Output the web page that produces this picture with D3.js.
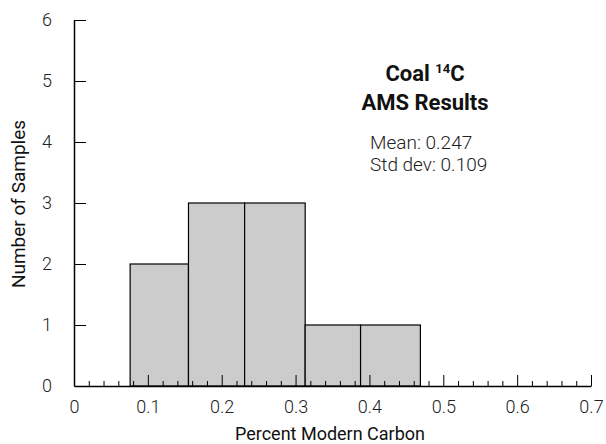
<!DOCTYPE html>
<html>
<head>
<meta charset="utf-8">
<script src="https://cdn.jsdelivr.net/npm/d3@7"></script>
<style>
    body { margin: 0; background: white; }
    text { font-family: Roboto, "Liberation Sans", sans-serif; }
</style>
</head>
<body>
<div id="chart"></div>
<script>
// bin edges and counts
const binEdges = [0.076, 0.155, 0.231, 0.313, 0.388, 0.469];
const counts = [2, 3, 3, 1, 1];
const xTicks = [0, 0.1, 0.2, 0.3, 0.4, 0.5, 0.6, 0.7];
const yTicks = [0, 1, 2, 3, 4, 5, 6];
const titleLines = ["Coal", "AMS Results"];
const statLines = ["Mean: 0.247", "Std dev: 0.109"];

function histogram() {

    const width = 606;
    const height = 444;
    const margin = {top: 20, left: 74, right: 15, bottom: 58};

    const bins = counts.map(function(c, i) {
        return {x0: binEdges[i], x1: binEdges[i + 1], n: c};
    });

    let xScale = d3.scaleLinear()
                .domain([0, 0.7])
                .range([margin.left, width - margin.right]);

    let yScale = d3.scaleLinear()
                .domain([0, 6])
                .range([height - margin.bottom, margin.top]);

    let svg = d3.select("#chart")
                .append("svg")
                .attr("width", width)
                .attr("height", height);

    // Bars
    svg.selectAll("rect.bar")
        .data(bins)
        .enter()
        .append("rect")
            .attr("class", "bar")
            .attr("x", function(d) { return xScale(d.x0); })
            .attr("y", function(d) { return yScale(d.n); })
            .attr("width", function(d) { return xScale(d.x1) - xScale(d.x0); })
            .attr("height", function(d) { return yScale(0) - yScale(d.n); })
            .attr("fill", "#cccccc")
            .attr("stroke", "#000")
            .attr("stroke-width", 1.2);

    // minor ticks on x (inside)
    const minor = d3.range(0, 0.7001, 0.02).filter(function(v) {
        return Math.abs(v * 10 - Math.round(v * 10)) > 1e-6;
    });

    svg.append("g")
        .attr("transform", `translate(0,${yScale(0)})`)
        .call(d3.axisBottom(xScale).tickValues(minor).tickSize(-5).tickFormat(""))
        .call(function(g) { g.select(".domain").remove(); })
        .selectAll("line").attr("stroke", "#000");

    // x axis
    const xAxis = svg.append("g")
        .attr("transform", `translate(0,${yScale(0)})`)
        .call(d3.axisBottom(xScale)
            .tickValues(xTicks)
            .tickSizeInner(-11)
            .tickSizeOuter(0)
            .tickPadding(14)
            .tickFormat(function(d) { return d === 0 ? "0" : d3.format(".1f")(d); }));

    xAxis.select(".domain").attr("stroke", "#000").attr("stroke-width", 1.5);
    xAxis.selectAll(".tick line").attr("stroke", "#000");
    xAxis.selectAll(".tick").filter(function(d) { return d === 0; }).select("line").remove();
    xAxis.selectAll("text")
        .attr("font-size", 18)
        .attr("font-weight", 300)
        .attr("fill", "#222");

    // y axis
    const yAxis = svg.append("g")
        .attr("transform", `translate(${margin.left},0)`)
        .call(d3.axisLeft(yScale)
            .tickValues(yTicks)
            .tickSizeInner(-12)
            .tickSizeOuter(0)
            .tickPadding(22)
            .tickFormat(d3.format("d")));

    yAxis.select(".domain").attr("stroke", "#000").attr("stroke-width", 1.5);
    yAxis.selectAll(".tick line").attr("stroke", "#000");
    yAxis.selectAll(".tick").filter(function(d) { return d === 0; }).select("line").remove();
    yAxis.selectAll("text")
        .attr("font-size", 18)
        .attr("font-weight", 300)
        .attr("fill", "#222");

    // axis labels
    svg.append("text")
        .attr("x", 330)
        .attr("y", 440)
        .attr("text-anchor", "middle")
        .attr("font-size", 18)
        .attr("fill", "#111")
        .text("Percent Modern Carbon");

    svg.append("text")
        .attr("transform", "translate(25,204) rotate(-90)")
        .attr("text-anchor", "middle")
        .attr("font-size", 19)
        .attr("fill", "#111")
        .text("Number of Samples");

    // title block
    const t1 = svg.append("text")
        .attr("x", 425)
        .attr("y", 81)
        .attr("text-anchor", "middle")
        .attr("font-size", 22)
        .attr("font-weight", "bold")
        .attr("fill", "#111");
    t1.append("tspan").text(titleLines[0] + " ");
    t1.append("tspan").attr("font-size", 13).attr("dy", -8).text("14");
    t1.append("tspan").attr("dy", 8).text("C");

    svg.append("text")
        .attr("x", 425)
        .attr("y", 110)
        .attr("text-anchor", "middle")
        .attr("font-size", 22)
        .attr("font-weight", "bold")
        .attr("fill", "#111")
        .text(titleLines[1]);

    svg.selectAll("text.stat")
        .data(statLines)
        .enter()
        .append("text")
            .attr("class", "stat")
            .attr("x", 370)
            .attr("y", function(d, i) { return 149 + 22 * i; })
            .attr("font-size", 19)
            .attr("font-weight", 300)
            .attr("fill", "#222")
            .text(function(d) { return d; });
};

histogram();
</script>
</body>
</html>
